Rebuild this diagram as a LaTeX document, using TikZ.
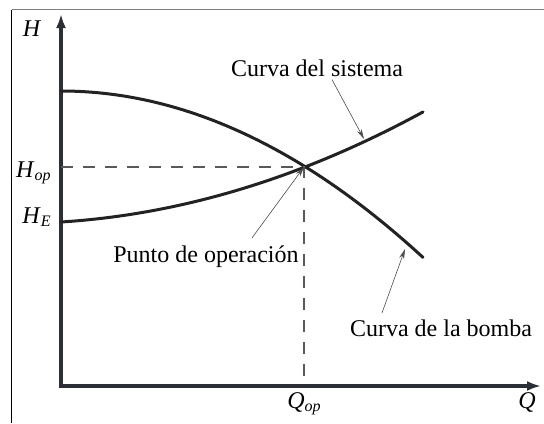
\documentclass[tikz,border=0pt]{standalone}
\usepackage{fontspec}
\setmainfont{Liberation Serif}
\usepackage{xcolor}
\usetikzlibrary{positioning,calc,arrows.meta}
\definecolor{axisgray}{HTML}{2B2F36}
\definecolor{curvegray}{HTML}{222222}
\tikzset{
  axis/.style={line width=2pt, draw=axisgray, {Latex[length=7pt,width=5pt]}-{Latex[length=7pt,width=5pt]}},
  curve/.style={line width=1.5pt, draw=curvegray, line cap=round},
  guide/.style={draw=gray!70!black, line width=0.6pt, dash pattern=on 6pt off 5pt},
  note/.style={draw=gray!60!black, line width=0.3pt, -{Stealth[length=5pt,width=2.5pt]}},
  lbl/.style={font=\fontsize{12}{14}\selectfont, inner sep=0pt}
}

\begin{document}
\begin{tikzpicture}[x=0.5pt, y=-0.5pt]
  \useasboundingbox (0,0) rectangle (544,423);
  % Frame
  \draw[black, line width=0.5pt] (11.5,9.5) -- (11.5,423);
  \draw[gray, line width=0.9pt] (11.5,9.5) -- (544,9.5);

  % Axes
  \coordinate (o) at (61,386);
  \coordinate (ytop) at (61,14);
  \coordinate (xend) at (541,386);
  \draw[axis] (ytop) -- (o) -- (xend);

  % Curves
  \draw[curve] plot[domain=61:423, samples=60] (\x, {91+12.7*((\x-61)/100)^2});
  \draw[curve] plot[domain=61:423, samples=60] (\x, {222-6.29*((\x-61)/100)-6.66*((\x-61)/100)^2});
  \coordinate (op) at (304,167);
  \coordinate (psys) at (364,139);
  \coordinate (ppump) at (405,249);

  % Guides
  \draw[guide] (o |- op) -- (op) -- (o -| op);

  % Labels
  \node[lbl] (lH) at (32,29) {\textit{H}};
  \node[lbl, anchor=base east] (lHop) at (52,177) {\textit{H}\textsubscript{\textit{op}}};
  \node[lbl, anchor=base east] (lHE) at (52,223) {\textit{H}\textsubscript{\textit{E}}};
  \node[lbl, anchor=base west] (lQop) at (287,408) {\textit{Q}\textsubscript{\textit{op}}};
  \node[lbl, anchor=base] (lQ) at (527,408) {\textit{Q}};
  \node[lbl, anchor=base] (lsys) at (317,76) {Curva del sistema};
  \node[lbl, anchor=base] (lop) at (206,262) {Punto de operación};
  \node[lbl, anchor=base] (lpump) at (441,336) {Curva de la bomba};

  % Pointers
  \draw[note] ([xshift=7.5pt,yshift=-1.5pt]lsys.south) -- (psys);
  \draw[note] ([xshift=23pt,yshift=3.5pt]lop.north) -- (op);
  \draw[note] ([xshift=-29.5pt,yshift=3pt]lpump.north) -- (ppump);
\end{tikzpicture}
\end{document}
